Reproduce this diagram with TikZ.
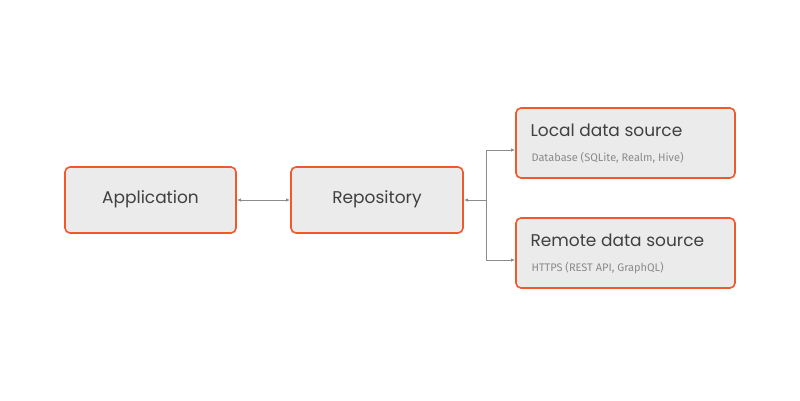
\documentclass[tikz,border=0pt]{standalone}
\usepackage{fontspec}
\setmainfont{Poppins}
\newfontfamily\subf{Fira Sans}
\usetikzlibrary{arrows.meta}
\definecolor{bord}{HTML}{F2592A}
\definecolor{fillg}{HTML}{EBEBEB}
\definecolor{txt}{HTML}{404040}
\definecolor{subt}{HTML}{8A8A8A}
\definecolor{conn}{HTML}{8C8C8C}
\begin{document}
\begin{tikzpicture}[x=1pt,y=-1pt,
  box/.style={draw=bord,line width=1.6pt,fill=fillg,rounded corners=5pt},
  ttl/.style={text=txt,font=\fontsize{17}{20}\selectfont},
  sub/.style={text=subt,font=\subf\fontsize{11}{13}\selectfont},
  con/.style={draw=conn,line width=1pt,-{Latex[length=4pt,width=3.5pt]}}]
\useasboundingbox[fill=white] (0,0) rectangle (800,400);
\draw[box] (65,167) rectangle (236,233);
\draw[box] (291,167) rectangle (463,233);
\draw[box] (516,108) rectangle (735,178);
\draw[box] (516,218) rectangle (735,288);
\node[ttl] (app) at (150.5,199) {Application};
\node[ttl] (repo) at (377,199) {Repository};
\node[ttl,anchor=west] (loc) at (527,130) {Local data source};
\node[sub,anchor=west] (locs) at (528,158) {Database (SQLite, Realm, Hive)};
\node[ttl,anchor=west] (rem) at (527,240) {Remote data source};
\node[sub,anchor=west] (rems) at (528,268) {HTTPS (REST API, GraphQL)};
\coordinate (al) at (237,200);
\coordinate (ar) at (290,200);
\coordinate (rr) at (464,200);
\coordinate (j) at (486,200);
\coordinate (lt) at (515,150);
\coordinate (rt) at (515,260);
\draw[con,{Latex[length=4pt,width=3.5pt]}-{Latex[length=4pt,width=3.5pt]}] (al) -- (ar);
\draw[con] (j) -- (rr);
\draw[con] (j) |- (lt);
\draw[con] (j) |- (rt);
\end{tikzpicture}
\end{document}
